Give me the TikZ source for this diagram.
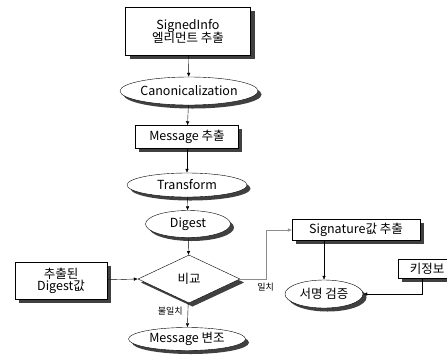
\documentclass[tikz,border=0pt]{standalone}
\usepackage{fontspec}
\setmainfont{Noto Sans CJK KR}
\usetikzlibrary{shapes.geometric,arrows.meta}

\begin{document}
\begin{tikzpicture}
	[x=1pt,y=-1pt,
	every node/.style={inner sep=0pt,font=\fontsize{12.5}{14}\selectfont},
	box/.style={draw,fill=white,rectangle},
	oval/.style={draw,fill=white,ellipse},
	test/.style={draw,fill=white,diamond,aspect=2.1},
	shadowfill/.style={fill=black!75,draw=none},
	flow/.style={-{Latex[length=4pt,width=3.5pt]},thin},
	tag/.style={font=\fontsize{9}{10}\selectfont}]
	\path[use as bounding box] (0,0) rectangle (447,357);

	% shadows first, drawn at the shapes' places shifted right and down
	\fill[shadowfill] (129.5,10.5) rectangle (254.5,58.5);
	\fill[shadowfill] (192.5,94.5) ellipse [x radius=69pt, y radius=14pt];
	\fill[shadowfill] (139,129) rectangle (242,152);
	\fill[shadowfill] (190.5,188.5) ellipse [x radius=60pt, y radius=12pt];
	\fill[shadowfill] (191.5,227.5) ellipse [x radius=42.5pt, y radius=13.5pt];
	\fill[shadowfill] (192.5,258.5) -- (244,282.5) -- (192.5,306.5) -- (141,282.5) -- cycle;
	\fill[shadowfill] (18.5,266) rectangle (110.5,303);
	\fill[shadowfill] (190.5,342.5) ellipse [x radius=58.5pt, y radius=11.5pt];
	\fill[shadowfill] (295.5,223) rectangle (423.5,244);
	\fill[shadowfill] (327.5,297.5) ellipse [x radius=39pt, y radius=14pt];
	\fill[shadowfill] (401.5,263) rectangle (459.5,282);

	\node[box,minimum width=125pt,minimum height=48pt,align=center] (signedinfo) at (188,31)
		{SignedInfo\\[-1pt]엘리먼트 추출};
	\node[oval,minimum width=138pt,minimum height=28pt] (canon) at (189,91) {Canonicalization};
	\node[box,minimum width=103pt,minimum height=23pt] (message) at (187,137) {Message 추출};
	\node[oval,minimum width=120pt,minimum height=24pt] (transform) at (187,185) {Transform};
	\node[oval,minimum width=85pt,minimum height=27pt] (digest) at (188,224) {Digest};
	\node[test,minimum width=102pt,minimum height=48pt] (compare) at (189,279) {비교};
	\node[box,minimum width=92pt,minimum height=37pt,align=center] (extracted) at (61,281)
		{추출된\\[-2pt]Digest값};
	\node[oval,minimum width=117pt,minimum height=23pt] (tamper) at (187,339) {Message 변조};
	\node[box,minimum width=128pt,minimum height=21pt] (signature) at (356,230) {Signature값 추출};
	\node[oval,minimum width=78pt,minimum height=28pt] (verify) at (324,294) {서명 검증};
	\node[box,minimum width=58pt,minimum height=19pt] (keyinfo) at (427,269) {키정보};

	% main flow
	\draw[flow] (signedinfo) -- (canon);
	\draw[flow] (canon) -- (message);
	\draw[flow] (message) -- (transform);
	\draw[flow] (transform) -- (digest);
	\draw[flow] (digest) -- (compare);
	\draw[flow] (extracted) -- (compare.west);
	\draw[flow] (compare) -- node[tag,left=5pt,pos=0.35] {불일치} (tamper);

	% match branch
	\draw[flow,draw=black!45] (compare.east) -- ++(26,0) coordinate (turn) |- (signature.west);
	\node[tag,anchor=north west] (match) at ([xshift=-9pt,yshift=-4pt]turn) {일치};
	\draw[flow] (verify.north |- signature.south) -- (verify.north);
	\draw[flow] ([xshift=-5pt]keyinfo.south) |- (verify.east);
\end{tikzpicture}
\end{document}
